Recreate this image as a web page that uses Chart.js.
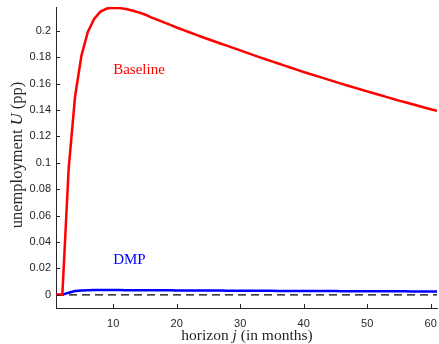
<!DOCTYPE html>
<html>
<head>
<meta charset="utf-8">
<script src="https://cdn.jsdelivr.net/npm/chart.js@4.4.1/dist/chart.umd.min.js"></script>
<style>
  body { margin: 0; background: #fff; }
  #wrap { width: 439px; height: 344px; }
</style>
</head>
<body>
<div id="wrap"><canvas id="myChart" width="439" height="344"></canvas></div>
<script>
// data
const months = [1, 2, 3, 4, 5, 6, 7, 8, 9, 10, 11, 12, 13, 14, 15, 16, 17, 18, 19, 20,
  21, 22, 23, 24, 25, 26, 27, 28, 29, 30, 31, 32, 33, 34, 35, 36, 37, 38, 39, 40,
  41, 42, 43, 44, 45, 46, 47, 48, 49, 50, 51, 52, 53, 54, 55, 56, 57, 58, 59, 60, 61];

const baseline = [0, 0, 0.096, 0.150, 0.181, 0.199, 0.209, 0.2145, 0.2168, 0.2175,
  0.2172, 0.2165, 0.2153, 0.2139, 0.2123, 0.2102, 0.2083, 0.2064, 0.2045, 0.2025,
  0.2007, 0.1989, 0.1971, 0.1953, 0.1936, 0.1919, 0.1902, 0.1885, 0.1868, 0.1851,
  0.1834, 0.1817, 0.1800, 0.1784, 0.1768, 0.1752, 0.1736, 0.1720, 0.1704, 0.1688,
  0.1673, 0.1658, 0.1643, 0.1628, 0.1613, 0.1598, 0.1583, 0.1569, 0.1555, 0.1541,
  0.1527, 0.1513, 0.1499, 0.1485, 0.1471, 0.1458, 0.1445, 0.1432, 0.1419, 0.1406, 0.1393];

const dmp = [0, 0, 0.0016, 0.0028, 0.0033, 0.0035, 0.0036, 0.0036, 0.0036, 0.0036,
  0.0036, 0.0035, 0.0035, 0.0035, 0.0035, 0.0034, 0.0034, 0.0034, 0.0034, 0.0033,
  0.0033, 0.0033, 0.0033, 0.0032, 0.0032, 0.0032, 0.0032, 0.0031, 0.0031, 0.0031,
  0.0031, 0.0030, 0.0030, 0.0030, 0.0030, 0.0029, 0.0029, 0.0029, 0.0029, 0.0029,
  0.0028, 0.0028, 0.0028, 0.0028, 0.0028, 0.0027, 0.0027, 0.0027, 0.0027, 0.0027,
  0.0026, 0.0026, 0.0026, 0.0026, 0.0026, 0.0026, 0.0025, 0.0025, 0.0025, 0.0025, 0.0025];

const zeroLine = [{ x: 1, y: 0 }, { x: 61, y: 0 }];

const xTicks = [10, 20, 30, 40, 50, 60];
const yTicks = [0, 0.02, 0.04, 0.06, 0.08, 0.1, 0.12, 0.14, 0.16, 0.18, 0.2];

const axisColor = '#262626';
const serif = "'Liberation Serif', 'Times New Roman', serif";

// draw text pieces (some italic) one after another, centred on x
function drawParts(ctx, parts, size) {
  let total = 0;
  parts.forEach(p => {
    ctx.font = (p.italic ? 'italic ' : '') + size + 'px ' + serif;
    p.w = ctx.measureText(p.text).width;
    total += p.w;
  });
  let x = -total / 2;
  parts.forEach(p => {
    ctx.font = (p.italic ? 'italic ' : '') + size + 'px ' + serif;
    ctx.fillText(p.text, x, 0);
    x += p.w;
  });
}

// inward ticks, axis titles and curve labels
const extras = {
  id: 'extras',
  afterDraw(chart) {
    const ctx = chart.ctx;
    const xs = chart.scales.x;
    const ys = chart.scales.y;
    const area = chart.chartArea;
    ctx.save();
    ctx.strokeStyle = axisColor;
    ctx.lineWidth = 1;
    ctx.beginPath();
    xTicks.forEach(v => {
      const px = Math.round(xs.getPixelForValue(v)) + 0.5;
      ctx.moveTo(px, area.bottom);
      ctx.lineTo(px, area.bottom - 4);
    });
    yTicks.forEach(v => {
      const py = Math.round(ys.getPixelForValue(v)) + 0.5;
      ctx.moveTo(area.left, py);
      ctx.lineTo(area.left + 4, py);
    });
    ctx.stroke();

    ctx.fillStyle = axisColor;
    ctx.textBaseline = 'middle';
    ctx.textAlign = 'left';
    // x title
    ctx.save();
    ctx.translate(247, 336);
    drawParts(ctx, [{ text: 'horizon ' }, { text: 'j', italic: true }, { text: ' (in months)' }], 15.5);
    ctx.restore();
    // y title
    ctx.save();
    ctx.translate(18, 155);
    ctx.rotate(-Math.PI / 2);
    drawParts(ctx, [{ text: 'unemployment ' }, { text: 'U', italic: true }, { text: ' (pp)' }], 16.5);
    ctx.restore();

    // curve labels
    ctx.font = '15px ' + serif;
    ctx.fillStyle = '#ff0000';
    ctx.fillText('Baseline', xs.getPixelForValue(10), ys.getPixelForValue(0.170));
    ctx.fillStyle = '#0000ff';
    ctx.fillText('DMP', xs.getPixelForValue(10), ys.getPixelForValue(0.0262));
    ctx.restore();
  }
};

const ctx = document.getElementById('myChart').getContext('2d');
const chart = new Chart(ctx, {
  type: 'line',
  data: {
    labels: months,
    datasets: [{
      label: 'Baseline',
      data: baseline,
      borderColor: '#ff0000',
      borderWidth: 2.5,
      pointRadius: 0,
      tension: 0,
      fill: false
    }, {
      label: 'DMP',
      data: dmp,
      borderColor: '#0000ff',
      borderWidth: 2.5,
      pointRadius: 0,
      tension: 0,
      fill: false
    }, {
      label: 'zero',
      data: zeroLine,
      borderColor: '#000000',
      borderWidth: 1.2,
      borderDash: [8, 5],
      pointRadius: 0,
      fill: false
    }]
  },
  options: {
    responsive: false,
    animation: false,
    devicePixelRatio: 1,
    layout: { padding: { left: 0, right: 2, top: 7, bottom: 0 } },
    plugins: {
      legend: { display: false },
      tooltip: { enabled: false }
    },
    scales: {
      x: {
        type: 'linear',
        min: 1,
        max: 61,
        afterBuildTicks: s => { s.ticks = xTicks.map(v => ({ value: v })); },
        afterFit: s => { s.height = 36; s.paddingLeft = 0; s.paddingRight = 0; },
        grid: { display: false, drawTicks: false },
        border: { display: true, color: axisColor, width: 1 },
        ticks: {
          color: axisColor,
          padding: 9,
          maxRotation: 0,
          font: { family: "'Liberation Sans', Arial, sans-serif", size: 11 }
        }
      },
      y: {
        min: -0.01,
        max: 0.218,
        afterBuildTicks: s => { s.ticks = yTicks.map(v => ({ value: v })); },
        afterFit: s => { s.width = 56; s.paddingTop = 0; s.paddingBottom = 0; },
        grid: { display: false, drawTicks: false },
        border: { display: true, color: axisColor, width: 1 },
        ticks: {
          color: axisColor,
          padding: 5,
          font: { family: "'Liberation Sans', Arial, sans-serif", size: 11 },
          callback: v => String(Number(v.toFixed(2)))
        }
      }
    }
  },
  plugins: [extras]
});
</script>
</body>
</html>
